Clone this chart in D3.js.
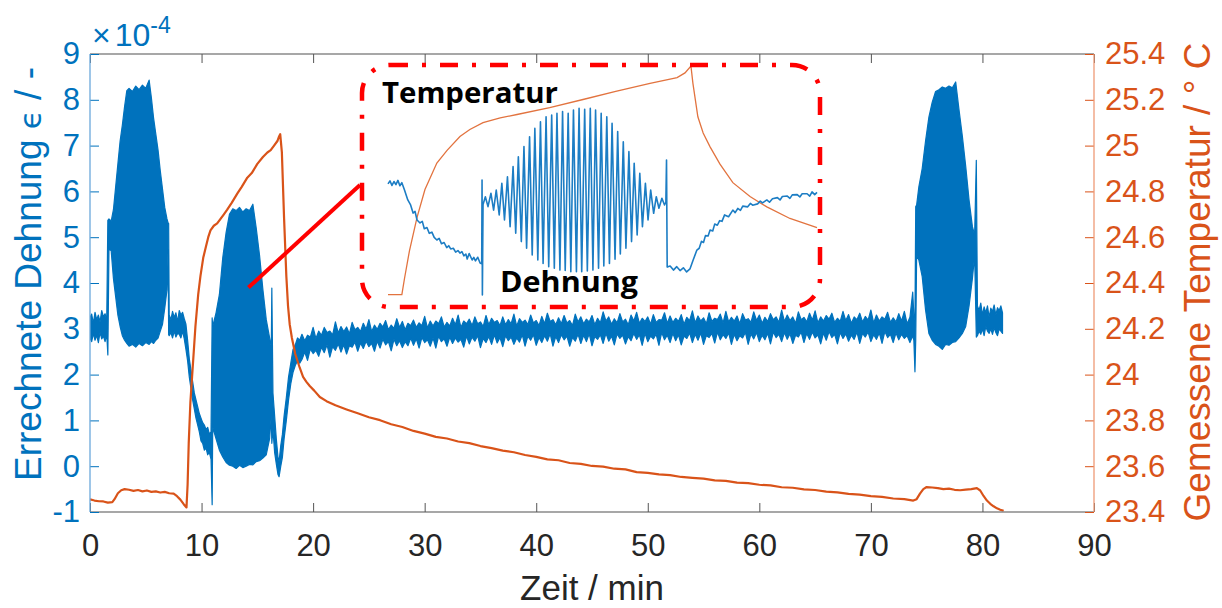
<!DOCTYPE html>
<html>
<head>
<meta charset="utf-8">
<script src="https://cdn.jsdelivr.net/npm/d3@7"></script>
<style>
  body { margin: 0; background: #ffffff; }
  svg { display: block; }
</style>
</head>
<body>
<svg id="chart" width="1222" height="608"></svg>
<script>
// ---------------- data ----------------
// x ticks (min), left ticks (strain x 1e-4), right ticks (deg C)
const timeTicks = [0, 10, 20, 30, 40, 50, 60, 70, 80, 90];
const strainTicks = [-1, 0, 1, 2, 3, 4, 5, 6, 7, 8, 9];
const tempTicks = [23.4, 23.6, 23.8, 24, 24.2, 24.4, 24.6, 24.8, 25, 25.2, 25.4];

// Computed strain, min/max envelope per time step (x 1e-4)
const strainTime = [
  0.0,0.15,0.3,0.45,0.6,0.75,0.9,1.05,1.2,1.35,1.5,1.6,
  1.7,1.9,2.1,2.3,2.5,2.7,2.9,3.1,3.3,3.5,3.8,4.1,4.4,4.7,5.0,5.3,5.5,5.7,5.9,6.1,6.3,6.5,6.7,6.9,7.0,7.05,
  7.1,7.25,7.4,7.55,7.7,7.85,8.0,8.15,8.3,8.45,8.6,8.75,8.9,9.05,9.2,9.35,9.5,9.65,9.8,9.95,10.1,10.25,10.4,10.55,10.7,10.85,10.95,
  11.0,11.3,11.6,11.9,12.2,12.5,12.8,13.1,13.4,13.7,14.0,14.3,14.6,14.9,15.2,15.5,15.8,16.1,16.25,16.3,
  16.4,16.55,16.7,16.85,16.95,17.1,17.25,17.4,17.6,17.8,18.0,18.2,18.4,18.6,18.8,
  19.0,19.5,20.0,20.5,21.0,21.5,22.0,22.5,23.0,23.5,24.0,24.5,25.0,25.5,26.0,26.5,27.0,27.5,28.0,28.5,29.0,29.5,
  30.0,30.5,31.0,31.5,32.0,32.5,33.0,33.5,34.0,34.5,35.0,35.5,36.0,36.5,37.0,37.5,38.0,38.5,39.0,39.5,
  40.0,40.5,41.0,41.5,42.0,42.5,43.0,43.5,44.0,44.5,45.0,45.5,46.0,46.5,47.0,47.5,48.0,48.5,49.0,49.5,
  50.0,50.5,51.0,51.5,52.0,52.5,53.0,53.5,54.0,54.5,55.0,55.5,56.0,56.5,57.0,57.5,58.0,58.5,59.0,59.5,
  60.0,60.5,61.0,61.5,62.0,62.5,63.0,63.5,64.0,64.5,65.0,65.5,66.0,66.5,67.0,67.5,68.0,68.5,69.0,69.5,
  70.0,70.5,71.0,71.5,72.0,72.5,73.0,73.5,73.75,73.85,73.95,
  74.02,74.1,74.3,74.6,74.9,75.2,75.5,75.8,76.1,76.4,76.7,77.0,77.3,77.6,77.9,78.2,78.5,78.8,79.1,79.3,79.45,
  79.55,79.7,79.85,80.0,80.15,80.3,80.45,80.6,80.75,80.9,81.05,81.2,81.35,81.5,81.65,81.8
];
const strainHigh = [
  3.25,3.32,3.12,3.36,3.20,3.30,3.15,3.40,3.26,3.33,3.18,5.37,
  5.40,5.35,5.60,6.10,6.60,7.10,7.45,7.85,8.20,8.25,8.18,8.30,8.22,8.32,8.25,8.43,8.05,7.60,7.25,6.90,6.45,6.05,5.65,5.40,5.31,5.30,
  3.30,3.20,3.38,3.25,3.35,3.15,3.40,3.30,3.36,3.22,3.10,2.75,2.35,2.10,1.85,1.60,1.45,1.30,1.15,1.05,0.95,0.90,0.80,0.85,0.70,0.75,3.24,
  3.05,3.35,3.75,4.55,5.10,5.50,5.62,5.58,5.65,5.55,5.62,5.58,5.72,5.20,4.60,3.85,3.20,2.80,2.60,3.89,
  1.60,1.10,0.60,0.20,0.10,0.45,0.70,1.10,1.50,1.95,2.25,2.55,2.65,2.80,2.75,
  2.88,2.86,3.03,2.95,3.03,2.95,3.15,3.05,3.04,3.14,3.03,3.12,3.20,3.08,3.12,3.18,3.08,3.22,3.16,3.12,3.19,3.13,
  3.27,3.17,3.17,3.26,3.14,3.23,3.30,3.17,3.21,3.26,3.15,3.29,3.23,3.18,3.26,3.20,3.32,3.22,3.19,3.30,
  3.18,3.27,3.34,3.20,3.24,3.29,3.18,3.32,3.26,3.21,3.29,3.23,3.37,3.26,3.22,3.33,3.21,3.30,3.36,3.23,
  3.26,3.31,3.20,3.35,3.28,3.23,3.31,3.25,3.39,3.28,3.24,3.35,3.23,3.32,3.38,3.25,3.28,3.33,3.22,3.37,
  3.30,3.25,3.33,3.26,3.41,3.30,3.26,3.37,3.25,3.34,3.39,3.26,3.29,3.34,3.23,3.38,3.31,3.26,3.34,3.27,
  3.41,3.30,3.26,3.36,3.24,3.33,3.38,3.25,3.80,3.30,3.20,
  5.67,5.70,6.10,6.50,7.10,7.62,7.95,8.18,8.22,8.28,8.25,8.30,8.26,8.39,7.78,7.20,6.55,5.81,5.23,5.05,6.68,
  3.50,3.40,3.56,3.30,3.48,3.35,3.50,3.25,3.45,3.38,3.52,3.30,3.46,3.40,3.50,3.35
];
const strainLow = [
  2.80,2.72,2.90,2.75,2.86,2.70,2.92,2.78,2.84,2.72,2.88,2.43,
  4.75,4.70,4.10,3.70,3.30,3.05,2.85,2.75,2.68,2.62,2.66,2.60,2.68,2.63,2.70,2.66,2.72,2.68,2.75,2.80,2.95,3.10,3.45,3.85,4.72,2.87,
  2.85,2.92,2.80,2.95,2.82,2.90,2.88,2.80,2.95,2.78,2.55,2.30,1.95,1.70,1.45,1.25,1.05,0.90,0.75,0.55,0.50,0.35,0.40,0.25,0.30,0.15,-0.84,
  0.85,0.60,0.35,0.20,0.08,0.02,0.00,-0.05,0.02,-0.03,0.00,0.04,0.03,0.10,0.12,0.18,0.25,0.60,1.10,0.50,
  0.80,0.30,0.05,-0.18,-0.23,0.00,0.20,0.60,1.00,1.45,1.80,2.05,2.20,2.30,2.25,
  2.33,2.31,2.46,2.40,2.48,2.38,2.53,2.49,2.45,2.60,2.51,2.57,2.61,2.51,2.58,2.65,2.52,2.63,2.59,2.63,2.64,2.58,
  2.70,2.62,2.58,2.72,2.62,2.68,2.71,2.60,2.67,2.73,2.59,2.70,2.66,2.69,2.61,2.74,2.66,2.71,2.62,2.75,
  2.64,2.70,2.73,2.62,2.70,2.76,2.62,2.73,2.68,2.72,2.63,2.77,2.68,2.73,2.65,2.79,2.67,2.74,2.77,2.64,
  2.72,2.78,2.64,2.76,2.70,2.74,2.65,2.79,2.70,2.75,2.66,2.81,2.69,2.76,2.79,2.66,2.74,2.80,2.66,2.78,
  2.72,2.76,2.67,2.81,2.72,2.77,2.68,2.82,2.70,2.77,2.80,2.67,2.75,2.81,2.67,2.79,2.73,2.77,2.68,2.82,
  2.72,2.77,2.68,2.81,2.70,2.76,2.79,2.70,2.85,2.75,2.06,
  2.75,4.60,4.50,4.14,3.41,2.90,2.75,2.66,2.62,2.55,2.66,2.64,2.70,2.72,2.80,2.90,3.05,3.50,4.10,4.60,2.82,
  2.85,2.95,2.88,3.00,2.85,3.05,2.95,2.90,3.00,2.88,3.02,2.92,2.85,3.00,2.95,2.90
];
// Intermediate samples of the quiet phase (19-74 min), between the envelope steps above
const strainMidTime = [
  19.25,19.75,20.25,20.75,21.25,21.75,22.25,22.75,23.25,23.75,24.25,24.75,25.25,25.75,26.25,26.75,27.25,27.75,28.25,28.75,29.25,29.75,
  30.25,30.75,31.25,31.75,32.25,32.75,33.25,33.75,34.25,34.75,35.25,35.75,36.25,36.75,37.25,37.75,38.25,38.75,39.25,39.75,
  40.25,40.75,41.25,41.75,42.25,42.75,43.25,43.75,44.25,44.75,45.25,45.75,46.25,46.75,47.25,47.75,48.25,48.75,49.25,49.75,
  50.25,50.75,51.25,51.75,52.25,52.75,53.25,53.75,54.25,54.75,55.25,55.75,56.25,56.75,57.25,57.75,58.25,58.75,59.25,59.75,
  60.25,60.75,61.25,61.75,62.25,62.75,63.25,63.75,64.25,64.75,65.25,65.75,66.25,66.75,67.25,67.75,68.25,68.75,69.25,69.75,
  70.25,70.75,71.25,71.75,72.25,72.75,73.25
];
const strainMidHigh = [
  2.74,2.82,2.79,2.86,2.92,2.87,2.91,2.94,2.89,2.98,2.94,2.99,2.94,2.99,3.04,2.98,3.01,3.03,2.98,3.07,3.03,3.07,
  3.02,3.06,3.11,3.04,3.06,3.09,3.03,3.11,3.07,3.11,3.05,3.09,3.14,3.07,3.09,3.11,3.06,3.14,3.09,3.13,
  3.07,3.11,3.16,3.09,3.11,3.13,3.07,3.15,3.11,3.15,3.09,3.13,3.17,3.10,3.13,3.15,3.09,3.17,3.12,3.16,
  3.10,3.14,3.19,3.12,3.14,3.16,3.10,3.18,3.13,3.17,3.11,3.16,3.20,3.13,3.15,3.17,3.11,3.19,3.14,3.18,
  3.12,3.16,3.20,3.14,3.16,3.18,3.12,3.20,3.15,3.19,3.13,3.17,3.21,3.14,3.16,3.18,3.12,3.20,3.15,3.19,
  3.13,3.17,3.21,3.14,3.15,3.17,3.11
];
const strainMidLow = [
  2.49,2.56,2.53,2.60,2.65,2.61,2.67,2.65,2.63,2.71,2.69,2.73,2.68,2.73,2.77,2.72,2.77,2.74,2.72,2.80,2.78,2.81,
  2.76,2.80,2.84,2.78,2.82,2.80,2.77,2.84,2.82,2.85,2.79,2.83,2.87,2.81,2.85,2.82,2.80,2.87,2.84,2.87,
  2.81,2.85,2.89,2.83,2.87,2.84,2.81,2.88,2.86,2.89,2.83,2.87,2.90,2.84,2.89,2.86,2.83,2.90,2.87,2.90,
  2.84,2.88,2.92,2.86,2.90,2.87,2.84,2.91,2.88,2.91,2.85,2.90,2.93,2.87,2.91,2.88,2.85,2.92,2.89,2.92,
  2.86,2.90,2.93,2.88,2.92,2.89,2.86,2.93,2.90,2.93,2.87,2.91,2.94,2.88,2.92,2.89,2.86,2.93,2.90,2.93,
  2.87,2.91,2.94,2.88,2.91,2.88,2.85
];

// Measured temperature (deg C)
const tempTime = [
  0,0.4,0.8,1.2,1.6,2.0,2.2,2.5,2.8,3.1,3.5,3.9,4.3,4.7,5.1,5.5,5.9,6.3,6.7,7.1,7.5,7.8,8.1,8.4,8.65,
  8.75,8.85,9.0,9.15,9.3,9.45,9.7,9.9,10.15,10.4,10.6,10.8,11.1,11.4,11.7,12.0,12.3,12.7,13.2,13.6,14.1,14.5,15.0,15.5,15.9,16.2,16.5,16.8,16.95,17.05,
  17.2,17.4,17.6,17.75,17.9,18.1,18.4,18.8,19.1,19.4,19.7,20.1,20.6,21.2,22,23,24,25,26,27,28,29,
  30,31,32,33,34,35,36,37,38,39,40,41,42,43,44,45,46,47,48,49,50,51,52,53,54,55,56,57,58,59,
  60,61,62,63,64,65,66,67,68,69,70,71,72,73,73.8,74.1,74.4,74.7,75.0,75.5,76,76.5,77,77.5,78,78.5,79,79.5,79.8,
  80.1,80.4,80.7,81.0,81.3,81.6,81.9
];
const tempValue = [
  23.455,23.450,23.447,23.446,23.441,23.443,23.456,23.482,23.495,23.500,23.497,23.492,23.496,23.490,23.494,23.488,23.490,23.485,23.488,23.482,23.480,23.469,23.454,23.434,23.420,
  23.520,23.700,23.880,23.990,24.100,24.210,24.350,24.430,24.510,24.560,24.600,24.630,24.650,24.660,24.680,24.700,24.720,24.750,24.790,24.820,24.860,24.880,24.920,24.950,24.970,24.980,25.000,25.020,25.040,25.050,
  24.970,24.680,24.430,24.300,24.220,24.160,24.090,24.030,23.990,23.968,23.950,23.930,23.902,23.884,23.866,23.848,23.831,23.814,23.801,23.783,23.771,23.754,
  23.742,23.728,23.721,23.708,23.701,23.688,23.679,23.668,23.661,23.649,23.641,23.630,23.626,23.614,23.610,23.601,23.598,23.589,23.586,23.574,23.571,23.564,23.561,23.553,23.549,23.546,23.538,23.536,23.528,23.526,
  23.519,23.516,23.508,23.506,23.499,23.496,23.489,23.486,23.479,23.476,23.469,23.466,23.459,23.456,23.450,23.456,23.480,23.500,23.509,23.507,23.504,23.500,23.502,23.497,23.495,23.498,23.500,23.504,23.494,
  23.470,23.450,23.436,23.425,23.416,23.410,23.405
];

// Close-up of the second load phase: strain and temperature (relative time, min)
const insetStrainPre = [
  [0.00,4.05],[0.06,4.18],[0.12,3.98],[0.18,4.15],[0.24,4.02],[0.30,4.20],[0.36,3.97],[0.42,4.10],[0.50,3.78],
  [0.60,3.35],[0.68,3.15],[0.76,2.78],[0.82,2.85],[0.88,2.48],[0.97,2.35],[1.04,2.42],[1.10,2.10],[1.18,2.15],[1.25,1.90],[1.33,1.95],[1.40,1.72],[1.48,1.61],[1.55,1.68],[1.62,1.45],
  [1.70,1.50],[1.78,1.28],[1.84,1.36],[1.90,1.22],[1.98,1.25],[2.05,1.08],[2.12,1.15],[2.18,1.04],[2.24,1.10],[2.30,0.92],[2.36,1.00],[2.40,0.78],[2.46,1.02],[2.55,0.74],[2.60,0.85],[2.65,0.70],
  [2.72,0.86],[2.79,0.61],[2.84,0.58],[2.85,4.22],[2.86,-0.78],[2.88,3.15]
];
const insetOscPeakTime = [2.95,3.12,3.28,3.45,3.62,3.79,3.95,4.12,4.29,4.45,4.62,4.79,4.96,5.12,5.29,5.46,5.62,5.79,5.96,6.13,6.29,6.46,6.63,6.79,6.96,7.13,7.30,7.46,7.63,7.80,7.96,8.13,8.30];
const insetOscPeak = [3.49,3.64,3.78,4.07,4.36,4.80,5.23,5.67,6.10,6.46,6.75,6.97,7.04,7.12,7.19,7.12,7.26,7.33,7.29,7.33,7.26,7.12,6.97,6.68,6.32,5.88,5.45,4.94,4.51,4.07,3.78,3.49,3.42];
const insetOscTroughTime = [3.03,3.20,3.37,3.53,3.70,3.87,4.04,4.20,4.37,4.54,4.70,4.87,5.04,5.21,5.37,5.54,5.71,5.87,6.04,6.21,6.38,6.54,6.71,6.88,7.04,7.21,7.38,7.55,7.71,7.88,8.05,8.21,8.38];
const insetOscTrough = [3.06,2.91,2.70,2.48,2.19,1.90,1.54,1.25,0.96,0.74,0.59,0.45,0.38,0.30,0.28,0.23,0.23,0.23,0.26,0.30,0.38,0.48,0.59,0.77,1.00,1.25,1.54,1.83,2.19,2.48,2.77,2.99,3.13];
const insetStrainPost = [
  [8.42,3.25],[8.44,5.09],[8.46,0.43],[8.55,0.48],[8.65,0.30],[8.75,0.45],[8.85,0.28],[8.95,0.40],[9.05,0.22],
  [9.15,0.35],[9.25,0.75],[9.36,1.17],[9.43,1.25],[9.50,1.55],[9.56,1.50],[9.62,1.80],[9.70,1.78],[9.76,2.04],[9.84,2.00],[9.90,2.30],[9.98,2.25],[10.05,2.45],[10.12,2.42],[10.20,2.70],
  [10.32,2.62],[10.45,2.91],[10.52,2.80],[10.60,2.98],[10.68,2.90],[10.75,3.08],[10.90,3.05],[10.98,3.20],[11.05,3.12],[11.20,3.18],[11.28,3.30],[11.35,3.22],
  [11.48,3.35],[11.56,3.25],[11.65,3.40],[11.80,3.45],[11.88,3.35],[11.95,3.50],[12.10,3.52],[12.18,3.42],[12.25,3.57],[12.40,3.58],[12.48,3.48],[12.55,3.62],
  [12.70,3.62],[12.78,3.52],[12.85,3.70],[12.93,3.58],[13.00,3.68]
];
const insetTemp = [
  [0.00,23.42],[0.42,23.42],[0.50,23.56],[0.65,23.80],[0.88,24.09],[1.12,24.33],[1.48,24.56],[1.79,24.67],
  [2.18,24.79],[2.48,24.85],[2.88,24.91],[3.40,24.95],[3.91,24.98],[4.90,25.04],[5.91,25.11],[6.90,25.18],
  [7.94,25.25],[8.76,25.30],[9.00,25.34],[9.18,25.40],[9.24,25.25],[9.39,24.96],[9.55,24.82],[9.76,24.70],
  [10.06,24.55],[10.45,24.39],[10.97,24.27],[11.48,24.18],[12.18,24.08],[13.00,24.00]
];

// Callout connecting the close-up to the second load phase
const calloutTime = [14.2, 24.2];
const calloutStrain = [3.9, 6.14];

// ---------------- layout & scales ----------------
const BLUE = "#0072BD", ORANGE = "#D95319", RED = "#FF0000", AXIS = "#262626";
const plot = { left: 90, right: 1094, top: 54, bottom: 512 };
const FONT = "'Liberation Sans', Arial, Helvetica, sans-serif";

const svg = d3.select("#chart");
const x = d3.scaleLinear().domain([0, 90]).range([plot.left, plot.right]);
const yL = d3.scaleLinear().domain([-1, 9]).range([plot.bottom, plot.top]);
const yR = d3.scaleLinear().domain([23.4, 25.4]).range([plot.bottom, plot.top]);

svg.append("defs").append("clipPath").attr("id", "plotClip")
  .append("rect").attr("x", plot.left).attr("y", plot.top)
  .attr("width", plot.right - plot.left).attr("height", plot.bottom - plot.top);

// ---------------- series ----------------
const strainRows = strainTime.map((t, i) => ({ t, hi: strainHigh[i], lo: strainLow[i] }))
  .concat(strainMidTime.map((t, i) => ({ t, hi: strainMidHigh[i], lo: strainMidLow[i] })))
  .sort((a, b) => a.t - b.t);
const tempRows = tempTime.map((t, i) => ({ t, v: tempValue[i] }));
const series = svg.append("g").attr("clip-path", "url(#plotClip)");

series.append("path").datum(strainRows)
  .attr("d", d3.area().x(d => x(d.t)).y0(d => yL(d.lo)).y1(d => yL(d.hi)))
  .attr("fill", BLUE).attr("stroke", BLUE).attr("stroke-width", 1.2)
  .attr("stroke-linejoin", "round");

series.append("path").datum(tempRows)
  .attr("d", d3.line().x(d => x(d.t)).y(d => yR(d.v)))
  .attr("fill", "none").attr("stroke", ORANGE).attr("stroke-width", 2.2)
  .attr("stroke-linejoin", "round");

// ---------------- axes ----------------
function styleAxis(g, lineColor, textColor, size) {
  g.select(".domain").remove();
  g.selectAll(".tick line").attr("stroke", lineColor).attr("stroke-width", 1);
  g.selectAll(".tick text").attr("fill", textColor)
    .attr("font-family", FONT).attr("font-size", size);
}

// top and bottom frame lines
svg.append("line").attr("x1", plot.left).attr("x2", plot.right).attr("y1", plot.top).attr("y2", plot.top)
  .attr("stroke", "#8a8a8a").attr("stroke-width", 1.6);
svg.append("line").attr("x1", plot.left).attr("x2", plot.right).attr("y1", plot.bottom).attr("y2", plot.bottom)
  .attr("stroke", "#8a8a8a").attr("stroke-width", 1.6);

const xAxis = svg.append("g").attr("transform", `translate(0,${plot.bottom})`)
  .call(d3.axisBottom(x).tickValues(timeTicks).tickSize(-9).tickPadding(22).tickFormat(d => String(d)));
styleAxis(xAxis, "#555", AXIS, 31);

const xAxisTop = svg.append("g").attr("transform", `translate(0,${plot.top})`)
  .call(d3.axisTop(x).tickValues(timeTicks).tickSize(-9).tickFormat(""));
styleAxis(xAxisTop, "#555", AXIS, 31);

const yAxisL = svg.append("g").attr("transform", `translate(${plot.left},0)`)
  .call(d3.axisLeft(yL).tickValues(strainTicks).tickSize(-9).tickPadding(10).tickFormat(d => String(d)));
styleAxis(yAxisL, BLUE, BLUE, 31);
svg.append("line").attr("x1", plot.left).attr("x2", plot.left).attr("y1", plot.top).attr("y2", plot.bottom)
  .attr("stroke", "#6aa8db").attr("stroke-width", 1.3);

const yAxisR = svg.append("g").attr("transform", `translate(${plot.right},0)`)
  .call(d3.axisRight(yR).tickValues(tempTicks).tickSize(-9).tickPadding(11).tickFormat(d => String(+d.toFixed(1))));
styleAxis(yAxisR, ORANGE, ORANGE, 31);
svg.append("line").attr("x1", plot.right).attr("x2", plot.right).attr("y1", plot.top).attr("y2", plot.bottom)
  .attr("stroke", "#ef9a76").attr("stroke-width", 1.3);

// exponent of the strain axis
const expo = svg.append("text").attr("x", 92).attr("y", 46)
  .attr("fill", BLUE).attr("font-family", FONT).attr("font-size", 32);
expo.append("tspan").attr("font-size", 32).text("\u00d7");
expo.append("tspan").attr("dx", 4).attr("font-size", 32).text("10");
expo.append("tspan").attr("dy", -13).attr("font-size", 23).text("-4");

// axis titles
svg.append("text").attr("x", 592).attr("y", 600).attr("text-anchor", "middle")
  .attr("fill", AXIS).attr("font-family", FONT).attr("font-size", 35).text("Zeit / min");

const titleL = svg.append("text").attr("transform", "translate(41,274) rotate(-90)")
  .attr("text-anchor", "middle").attr("fill", BLUE)
  .attr("font-family", FONT).attr("font-size", 37);
titleL.append("tspan").text("Errechnete Dehnung ");
titleL.append("tspan").attr("font-family", "'DejaVu Sans', sans-serif").attr("font-size", 31).text("\u03f5");
titleL.append("tspan").text(" / -");

svg.append("text").attr("transform", "translate(1210,282) rotate(-90)")
  .attr("text-anchor", "middle").attr("fill", ORANGE)
  .attr("font-family", FONT).attr("font-size", 37).text("Gemessene Temperatur / \u00b0 C");

// ---------------- close-up ----------------
const inset = { x0: 388, x1: 817, frameLeft: 362, frameRight: 820, frameTop: 65, frameBottom: 307 };
const ix = d3.scaleLinear().domain([0, 13]).range([inset.x0, inset.x1]);
const iyS = d3.scaleLinear().domain([-1, 9]).range([300, 70]);
const iyT = d3.scaleLinear().domain([23.4, 25.4]).range([297, 66]);

const oscPairs = d3.merge(insetOscPeakTime.map((t, i) => [[t, insetOscPeak[i]], [insetOscTroughTime[i], insetOscTrough[i]]]));
const insetStrain = insetStrainPre.concat(oscPairs, insetStrainPost);

const ig = svg.append("g");
ig.append("path").datum(insetTemp)
  .attr("d", d3.line().x(d => ix(d[0])).y(d => iyT(d[1])))
  .attr("fill", "none").attr("stroke", "#E2733F").attr("stroke-width", 1.3);
ig.append("path").datum(insetStrain)
  .attr("d", d3.line().x(d => ix(d[0])).y(d => iyS(d[1])))
  .attr("fill", "none").attr("stroke", "#1C7DC4").attr("stroke-width", 1.6)
  .attr("stroke-linejoin", "round");

ig.append("text").attr("x", 382).attr("y", 103).attr("textLength", 176).attr("lengthAdjust", "spacingAndGlyphs")
  .attr("fill", "#000").attr("font-family", "'Open Sans', sans-serif").attr("font-weight", 700)
  .attr("font-size", 28).text("Temperatur");
ig.append("text").attr("x", 500).attr("y", 292).attr("textLength", 138).attr("lengthAdjust", "spacingAndGlyphs")
  .attr("fill", "#000").attr("font-family", "'Open Sans', sans-serif").attr("font-weight", 700)
  .attr("font-size", 29).text("Dehnung");

// dash-dot frame around the close-up
svg.append("rect")
  .attr("x", inset.frameLeft).attr("y", inset.frameTop)
  .attr("width", inset.frameRight - inset.frameLeft).attr("height", inset.frameBottom - inset.frameTop)
  .attr("rx", 28).attr("ry", 28)
  .attr("fill", "none").attr("stroke", RED).attr("stroke-width", 4.5)
  .attr("stroke-dasharray", "18,14,4,14");

// callout line
svg.append("path").datum(calloutTime.map((t, i) => [t, calloutStrain[i]]))
  .attr("d", d3.line().x(d => x(d[0])).y(d => yL(d[1])))
  .attr("stroke", RED).attr("stroke-width", 4).attr("fill", "none");
</script>
</body>
</html>
